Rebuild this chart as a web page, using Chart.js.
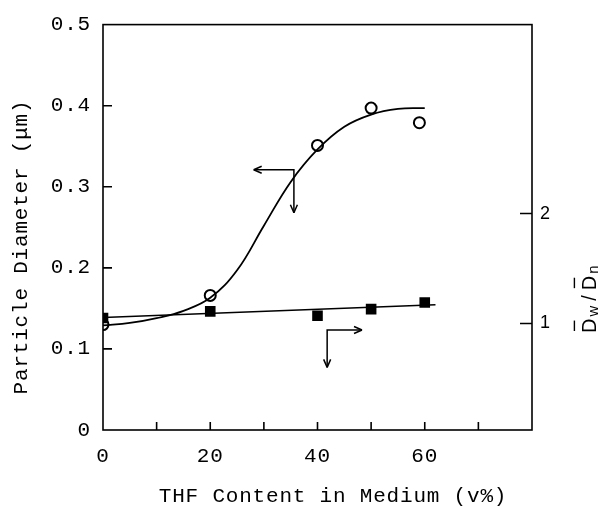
<!DOCTYPE html>
<html><head><meta charset="utf-8">
<script src="https://cdn.jsdelivr.net/npm/chart.js@4.4.1/dist/chart.umd.min.js"></script>
<style>html,body{margin:0;padding:0;background:#fff;}canvas{display:block;}</style>
</head><body>
<canvas id="c" width="602" height="507"></canvas>
<script>
// ---- data ----
const xTickValues = [0, 10, 20, 30, 40, 50, 60, 70, 80];
const xTickLabels = ["0", "", "20", "", "40", "", "60", "", ""];
const yTickValues = [0, 0.1, 0.2, 0.3, 0.4, 0.5];
const yTickLabels = ["0", "0.1", "0.2", "0.3", "0.4", "0.5"];
const y2TickValues = [1, 2];
const y2TickLabels = ["1", "2"];

const diameterX = [0, 20, 40, 50, 59];
const diameterY = [0.130, 0.166, 0.351, 0.397, 0.379];

const diameterCurveX = [0, 5, 10, 15, 20, 25, 30, 35, 40, 45, 50, 55, 60];
const diameterCurveY = [0.129, 0.132, 0.138, 0.147, 0.163, 0.197, 0.252, 0.306, 0.346, 0.374, 0.389, 0.396, 0.397];

const ratioX = [0, 20, 40, 50, 60];
const ratioY = [1.05, 1.11, 1.07, 1.13, 1.19];
const ratioLineX = [0, 62];
const ratioLineY = [1.055, 1.17];

const xTitle = "THF Content in Medium (v%)";
const yTitle = "Particle Diameter (\u03bcm)";

const MONO = "'Liberation Mono', 'DejaVu Sans Mono', monospace";
const SANS = "'Liberation Sans', Arial, sans-serif";

function pts(xs, ys) { return xs.map((x, i) => ({ x: x, y: ys[i] })); }

function fixTicks(values) {
  return function (scale) { scale.ticks = values.map(v => ({ value: v })); };
}

const decor = {
  id: 'decor',
  beforeDraw(chart) {
    chart.ctx.letterSpacing = '0.8px';
  },
  afterDraw(chart) {
    const ctx = chart.ctx, a = chart.chartArea;
    const sx = chart.scales.x, sy = chart.scales.y, sy2 = chart.scales.y2;
    ctx.save();
    ctx.strokeStyle = '#000';
    ctx.lineWidth = 1.6;
    // frame
    ctx.strokeRect(a.left, a.top, a.right - a.left, a.bottom - a.top);
    // inward ticks
    ctx.beginPath();
    xTickValues.slice(1, -1).forEach(v => {
      const p = sx.getPixelForValue(v);
      ctx.moveTo(p, a.bottom); ctx.lineTo(p, a.bottom - 8);
    });
    yTickValues.slice(1, -1).forEach(v => {
      const p = sy.getPixelForValue(v);
      ctx.moveTo(a.left, p); ctx.lineTo(a.left + 9, p);
    });
    y2TickValues.forEach(v => {
      const p = sy2.getPixelForValue(v);
      ctx.moveTo(a.right, p); ctx.lineTo(a.right - 12, p);
    });
    ctx.stroke();

    // arrows (annotations pointing to the axis each curve uses)
    function head(x, y, dx, dy) {
      const L = 8, W = 3.5;
      ctx.beginPath();
      ctx.moveTo(x, y);
      ctx.lineTo(x - dx * L - dy * W, y - dy * L + dx * W);
      ctx.moveTo(x, y);
      ctx.lineTo(x - dx * L + dy * W, y - dy * L - dx * W);
      ctx.stroke();
    }
    ctx.lineWidth = 1.5;
    // arrow 1 : left axis
    const ax = sx.getPixelForValue(35.6), ay = sy.getPixelForValue(0.321);
    const axL = sx.getPixelForValue(28.1), ayB = sy.getPixelForValue(0.268);
    ctx.beginPath(); ctx.moveTo(axL, ay); ctx.lineTo(ax, ay); ctx.lineTo(ax, ayB); ctx.stroke();
    head(axL, ay, -1, 0); head(ax, ayB, 0, 1);
    // arrow 2 : right axis
    const bx = sx.getPixelForValue(41.8), by = sy2.getPixelForValue(0.94);
    const bxR = sx.getPixelForValue(48.3), byB = sy2.getPixelForValue(0.60);
    ctx.beginPath(); ctx.moveTo(bx, byB); ctx.lineTo(bx, by); ctx.lineTo(bxR, by); ctx.stroke();
    head(bxR, by, 1, 0); head(bx, byB, 0, 1);

    // axis titles
    ctx.fillStyle = '#000';
    ctx.font = '21px ' + MONO;
    ctx.letterSpacing = '0.8px';
    ctx.textAlign = 'center'; ctx.textBaseline = 'middle';
    ctx.fillText(xTitle, 333, 496);
    ctx.save();
    ctx.translate(21, 247); ctx.rotate(-Math.PI / 2);
    ctx.fillText(yTitle, 0, 0);
    ctx.restore();

    // right title  Dw/Dn with overbars
    ctx.save();
    ctx.letterSpacing = '0px';
    ctx.translate(596, 333); ctx.rotate(-Math.PI / 2);
    ctx.textAlign = 'left'; ctx.textBaseline = 'alphabetic';
    let cx = 0;
    function part(t, size, dy, bar, gap) {
      ctx.font = size + 'px ' + SANS;
      const w = ctx.measureText(t).width;
      ctx.fillText(t, cx, dy);
      if (bar) {
        ctx.lineWidth = 1.4;
        ctx.beginPath(); ctx.moveTo(cx + 2, -size * 1.08); ctx.lineTo(cx + w - 2, -size * 1.08); ctx.stroke();
      }
      cx += w + gap;
    }
    part('D', 20, 0, true, 2); part('w', 15, 2, false, 5); part('/', 20, 0, false, 5);
    part('D', 20, 0, true, 2); part('n', 15, 2, false, 0);
    ctx.restore();
    ctx.restore();
  }
};

new Chart(document.getElementById('c'), {
  type: 'scatter',
  data: {
    datasets: [
      { data: pts(diameterCurveX, diameterCurveY), showLine: true, pointRadius: 0, borderColor: '#000', borderWidth: 1.8, tension: 0.4, yAxisID: 'y' },
      { data: pts(ratioLineX, ratioLineY), showLine: true, pointRadius: 0, borderColor: '#000', borderWidth: 1.5, yAxisID: 'y2' },
      { data: pts(ratioX, ratioY), pointStyle: 'rect', pointRadius: 7.5, backgroundColor: '#000', borderColor: '#000', borderWidth: 0, yAxisID: 'y2' },
      { data: pts(diameterX, diameterY), pointStyle: 'circle', pointRadius: 5.5, backgroundColor: '#fff', borderColor: '#000', borderWidth: 2, yAxisID: 'y' }
    ]
  },
  options: {
    responsive: false, animation: false, events: [],
    layout: { padding: { top: 24, left: 0, right: 0, bottom: 0 } },
    plugins: { legend: { display: false }, tooltip: { enabled: false } },
    scales: {
      x: {
        type: 'linear', min: 0, max: 80,
        afterBuildTicks: fixTicks(xTickValues),
        afterFit(s) { s.height = 77; },
        grid: { display: false, drawTicks: false },
        border: { display: false },
        ticks: { color: '#000', font: { family: MONO, size: 21 }, padding: 14, maxRotation: 0, autoSkip: false,
          callback: (v, i) => xTickLabels[i] }
      },
      y: {
        type: 'linear', position: 'left', min: 0, max: 0.5,
        afterBuildTicks: fixTicks(yTickValues),
        afterFit(s) { s.width = 103; },
        grid: { display: false, drawTicks: false },
        border: { display: false },
        ticks: { color: '#000', font: { family: MONO, size: 21 }, padding: 12, autoSkip: false,
          callback: (v, i) => yTickLabels[i] }
      },
      y2: {
        type: 'linear', position: 'right', min: 0.03, max: 3.72,
        afterBuildTicks: fixTicks(y2TickValues),
        afterFit(s) { s.width = 70; },
        grid: { display: false, drawTicks: false },
        border: { display: false },
        ticks: { color: '#000', font: { family: SANS, size: 18 }, padding: 8, autoSkip: false,
          callback: (v, i) => y2TickLabels[i] }
      }
    }
  },
  plugins: [decor]
});
</script>
</body></html>
